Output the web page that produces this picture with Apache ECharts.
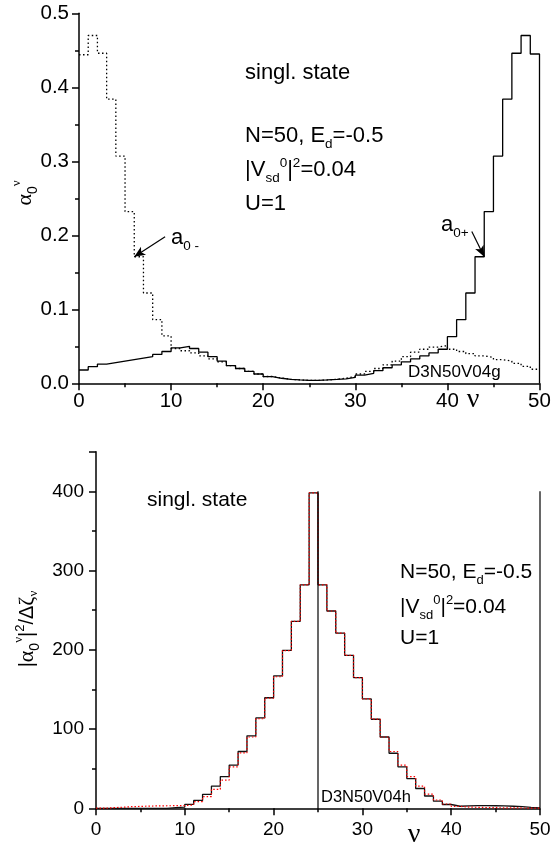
<!DOCTYPE html>
<html><head><meta charset="utf-8">
<script src="https://cdn.jsdelivr.net/npm/echarts@6/dist/echarts.min.js"></script>
<style>html,body{margin:0;padding:0;background:#fff;}#c{width:551px;height:846px;}</style>
</head><body><div id="c"></div>
<script>
// ---- data ----
const bins = Array.from({length: 50}, (_, i) => i);   // bin ν = 0..49 (width 1)
const xTicks = [0, 10, 20, 30, 40, 50];
// top panel: a0+ (solid) and a0- (dotted)
const a0Plus = [0.018, 0.0225, 0.026, 0.028, 0.030, 0.032, 0.034, 0.036, 0.039, 0.043,
  0.048, 0.050, 0.047, 0.042, 0.036, 0.030, 0.024, 0.020, 0.016, 0.0126,
  0.009, 0.0068, 0.0054, 0.0045, 0.004, 0.004, 0.0045, 0.0052, 0.006, 0.008,
  0.011, 0.0135, 0.017, 0.021, 0.025, 0.029, 0.033, 0.037, 0.041, 0.046,
  0.063, 0.086, 0.122, 0.171, 0.232, 0.307, 0.384, 0.446, 0.470, 0.445];
const a0Minus = [0.444, 0.470, 0.446, 0.384, 0.307, 0.232, 0.171, 0.122, 0.086, 0.064,
  0.047, 0.044, 0.041, 0.037, 0.033, 0.029, 0.024, 0.020, 0.016, 0.0126,
  0.0092, 0.007, 0.0054, 0.0045, 0.004, 0.004, 0.0045, 0.0055, 0.007, 0.009,
  0.0126, 0.016, 0.020, 0.025, 0.030, 0.036, 0.042, 0.046, 0.049, 0.051,
  0.046, 0.043, 0.040, 0.037, 0.035, 0.032, 0.030, 0.027, 0.023, 0.019];
// bottom panel: |a0|^2/Δζ  solid (black) and dotted (red)
const ratioSolid = [0, 0, 0, 0, 0, 0, 0, 0, 0.8, 1.6,
  5, 10, 17.6, 28, 40, 54.5, 71.7, 91.4, 114, 139.5,
  167, 199.4, 236, 282, 398, 282, 249, 221, 193, 164.8,
  138, 112.4, 90, 69.5, 52.4, 37.5, 25, 15.5, 9, 4.8,
  2.6, 3.1, 3.3, 3.3, 3.2, 3.0, 2.6, 2.0, 1.2, 0.5];
const ratioDotted = [0.2, 0.8, 1.4, 2.0, 2.4, 2.8, 3.0, 3.2, 3.3, 3.5,
  4.2, 8.4, 14.7, 24, 35.6, 52.4, 70, 90, 113, 139,
  166, 199, 236, 282, 398, 282, 249, 221, 193, 165,
  138, 112.5, 90, 71.7, 54.5, 39.9, 28, 18, 10.5, 5.4,
  2.4, 1.6, 1.2, 1.0, 0.8, 0.6, 0.5, 0.4, 0.3, 0.2];
const refLinesX = [25, 50];
const refLineTop = 400;
// annotation arrows (data coordinates: tail, head)
const arrowMinus = [[9.35, 0.198], [6.0, 0.171]];
const arrowPlus = [[42.65, 0.205], [44.0, 0.171]];

// ---- chart ----
const FONT = '"Liberation Sans", Arial, sans-serif';
const SERIF = '"Liberation Serif", "DejaVu Serif", serif';
const chart = echarts.init(document.getElementById('c'), null, {renderer: 'canvas'});

function steps(vals, tail) {
  const d = vals.map((v, i) => [bins[i], v]);
  const end = bins[vals.length - 1] + 1;
  d.push([end, vals[vals.length - 1]]);
  if (tail !== undefined) d.push([end, tail]);
  return d;
}
function xAxis(gi, fs, margin) {
  return {type: 'value', gridIndex: gi, min: xTicks[0], max: xTicks[xTicks.length - 1], interval: 10,
    axisLine: {show: true, onZero: false, lineStyle: {color: '#000', width: 1.5}},
    axisTick: {show: true, inside: false, length: 7, lineStyle: {color: '#000', width: 1.5}},
    minorTick: {show: true, splitNumber: 2, length: 4, lineStyle: {color: '#000', width: 1.5}},
    splitLine: {show: false}, minorSplitLine: {show: false},
    axisLabel: {color: '#000', fontSize: fs, fontFamily: FONT, margin: margin, showMinLabel: true, showMaxLabel: true}};
}
function yAxis(gi, min, max, interval, fs, margin, fmt) {
  return {type: 'value', gridIndex: gi, min, max, interval,
    axisLine: {show: true, onZero: false, lineStyle: {color: '#000', width: 1.5}},
    axisTick: {show: true, inside: false, length: 7, lineStyle: {color: '#000', width: 1.5}},
    minorTick: {show: true, splitNumber: 2, length: 4, lineStyle: {color: '#000', width: 1.5}},
    splitLine: {show: false}, minorSplitLine: {show: false},
    axisLabel: {color: '#000', fontSize: fs, fontFamily: FONT, margin: margin, formatter: fmt, showMinLabel: true, showMaxLabel: true}};
}
function arrowLine(a) {
  return [{coord: a[0], symbol: 'none'}, {coord: a[1], symbol: 'arrow', symbolSize: [7, 11]}];
}
function txt(x, y, text, rich, fs, family, align) {
  const st = {text, fontSize: fs, fontFamily: family || FONT, fill: '#000', rich: rich || {},
    textAlign: align || 'left', align: align || 'left', textVerticalAlign: 'middle', verticalAlign: 'middle'};
  return {type: 'text', x, y, silent: true, style: st};
}
function richSet(fs, ss, subOff, supOff) {
  return {
    m: {fontSize: fs, fontFamily: FONT, fill: '#000'},
    s: {fontSize: ss, fontFamily: FONT, fill: '#000', padding: [subOff * 2, 0, 0, 0]},
    p: {fontSize: ss, fontFamily: FONT, fill: '#000', padding: [0, 0, supOff * 2, 0]}
  };
}
const rTop = richSet(22, 13.5, 8, 7);
const rBot = richSet(21, 13, 8, 7);
const nameRich = {
  g: {fontSize: 22, fontFamily: SERIF, fill: '#000'},
  m: {fontSize: 20, fontFamily: FONT, fill: '#000'},
  s: {fontSize: 14, fontFamily: FONT, fill: '#000', padding: [16, 0, 0, 0]},
  q: {fontSize: 13, fontFamily: SERIF, fill: '#000', padding: [0, 0, 16, 0]},
  p: {fontSize: 13, fontFamily: FONT, fill: '#000', padding: [0, 0, 14, 0]},
  sg: {fontSize: 13, fontFamily: SERIF, fill: '#000', padding: [14, 0, 0, 0]}
};

const option = {
  animation: false,
  backgroundColor: '#fff',
  grid: [
    {left: 79, top: 13.3, width: 460.5, height: 370, outerBoundsMode: 'none', containLabel: false},
    {left: 96, top: 451.7, width: 444, height: 356.6, outerBoundsMode: 'none', containLabel: false}
  ],
  xAxis: [xAxis(0, 20.5, 8), xAxis(1, 19, 12)],
  yAxis: [
    yAxis(0, 0, 0.5, 0.1, 20.5, 10, v => v.toFixed(1)),
    yAxis(1, 0, 450, 100, 19, 12, v => (v % 100 === 0 ? String(v) : ''))
  ],
  series: [
    {type: 'line', xAxisIndex: 0, yAxisIndex: 0, step: 'end', showSymbol: false, silent: true,
      data: steps(a0Minus), lineStyle: {color: '#000', width: 1.3, type: [1.5, 2.5]},
      markLine: {silent: true, symbol: ['none', 'arrow'], label: {show: false},
        lineStyle: {color: '#000', width: 1.2, type: 'solid'}, data: [arrowLine(arrowMinus), arrowLine(arrowPlus)]}},
    {type: 'line', xAxisIndex: 0, yAxisIndex: 0, step: 'end', showSymbol: false, silent: true,
      data: steps(a0Plus, 0), lineStyle: {color: '#000', width: 1.3}},
    {type: 'line', xAxisIndex: 1, yAxisIndex: 1, step: 'end', showSymbol: false, silent: true,
      data: steps(ratioSolid), lineStyle: {color: '#111', width: 1.3}},
    {type: 'line', xAxisIndex: 1, yAxisIndex: 1, step: 'end', showSymbol: false, silent: true,
      data: steps(ratioDotted), lineStyle: {color: '#ff0000', width: 1.2, type: [1.5, 2]}}
  ].concat(refLinesX.map(x => ({type: 'line', xAxisIndex: 1, yAxisIndex: 1, showSymbol: false, silent: true,
      data: [[x, 0], [x, refLineTop]], lineStyle: {color: '#000', width: 1.2}}))),
  graphic: [
    txt(245, 73, 'singl. state', null, 22),
    txt(245, 136, '{m|N=50, E}{s|d}{m|=-0.5}', rTop, 22),
    txt(245, 170, '{m||V}{s|sd}{p|0}{m||}{p|2}{m|=0.04}', rTop, 22),
    txt(245, 204, 'U=1', null, 22),
    txt(171, 238, '{m|a}{s|0 -}', rTop, 22),
    txt(441, 225, '{m|a}{s|0+}', rTop, 22),
    txt(408, 372, 'D3N50V04g', null, 17),
    txt(473, 400, 'ν', null, 28, SERIF, 'center'),
    txt(147, 500, 'singl. state', null, 21),
    txt(400, 572, '{m|N=50, E}{s|d}{m|=-0.5}', rBot, 21),
    txt(400, 607, '{m||V}{s|sd}{p|0}{m||}{p|2}{m|=0.04}', rBot, 21),
    txt(400, 638, 'U=1', null, 21),
    txt(321, 797, 'D3N50V04h', null, 16.5),
    txt(414, 835, 'ν', null, 28, SERIF, 'center'),
    {type: 'text', x: 25, y: 193, rotation: Math.PI / 2, silent: true,
      style: {text: '{g|α}{s|0}{q|ν}', rich: nameRich, fill: '#000', textAlign: 'center', align: 'center', textVerticalAlign: 'middle', verticalAlign: 'middle'}},
    {type: 'text', x: 27, y: 629, rotation: Math.PI / 2, silent: true,
      style: {text: '{m||}{g|α}{s|0}{q|ν}{m||}{p|2}{m|/Δ}{g|ζ}{sg|ν}', rich: nameRich, fill: '#000', textAlign: 'center', align: 'center', textVerticalAlign: 'middle', verticalAlign: 'middle'}}
  ]
};
chart.setOption(option);
</script>
</body></html>
